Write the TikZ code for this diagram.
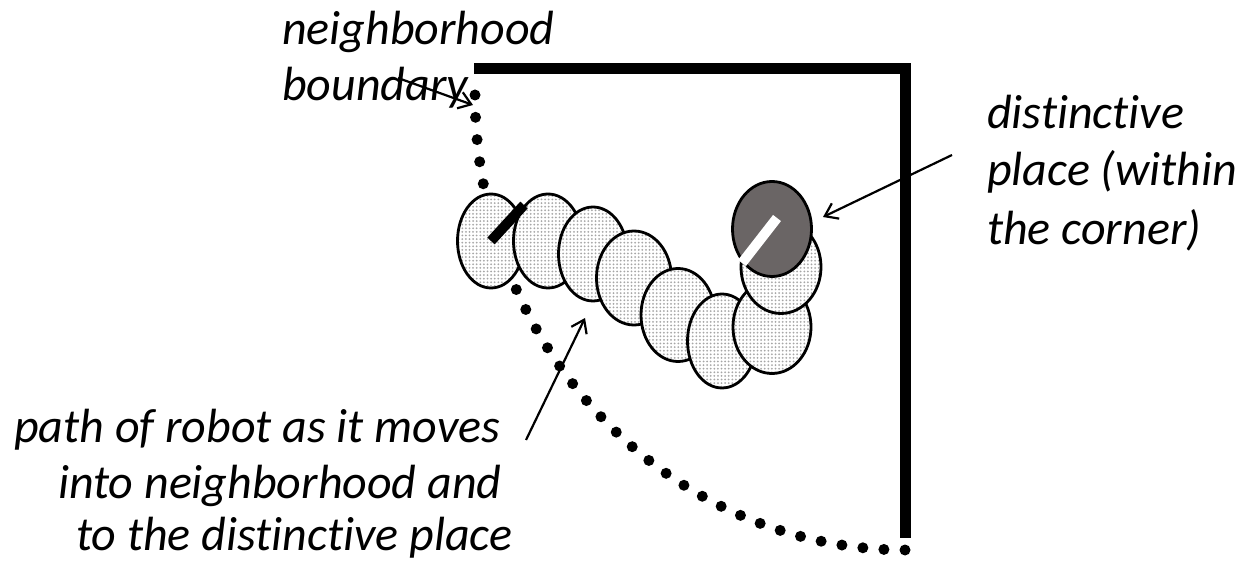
\documentclass[tikz,border=0pt]{standalone}
\usepackage{fontspec}
\setmainfont{Carlito}[Ligatures=NoCommon]
\usetikzlibrary{arrows.meta,patterns,shapes.geometric}
\pgfdeclarepatternformonly{robotdots}{\pgfqpoint{-0.5pt}{-0.5pt}}{\pgfqpoint{3.5pt}{3.5pt}}{\pgfqpoint{3.6pt}{3.6pt}}{\pgfpathcircle{\pgfqpoint{1.5pt}{1.5pt}}{1pt}\pgfusepath{fill}}
\definecolor{darkbot}{RGB}{106,101,101}
\begin{document}
\begin{tikzpicture}[x=1pt,y=-1pt,
  robot/.style={ellipse, draw, line width=2.8pt, inner sep=0pt, preaction={fill=white}, pattern=robotdots, pattern color=gray!70},
  darkrobot/.style={ellipse, draw, line width=2.8pt, inner sep=0pt, fill=darkbot},
  lbl/.style={font=\fontsize{48}{56}\selectfont\itshape, inner sep=0pt, anchor=base west},
  wall/.style={line width=10.6pt, line join=miter},
  ptr/.style={line width=2.2pt, -{Straight Barb[length=12pt,width=17pt]}},
  bar/.style={line width=10pt}]
\useasboundingbox (0,0) rectangle (1240,561);
% neighborhood boundary (dotted arc)
\foreach \i in {0,...,32} {
  \fill ({905+430*cos(180-\i*90/32)},{95+455*sin(180-\i*90/32)}) circle (5.5pt);
}
% walls
\draw[wall] (474,68.5) -- (905.5,68.5) -- (905.5,538);
% robot path
\node[robot, minimum width=67pt, minimum height=94pt] (r1) at (491,241) {};
\node[robot, minimum width=69pt, minimum height=94pt] (r2) at (548,241) {};
\node[robot, minimum width=69pt, minimum height=94pt] (r3) at (593,254) {};
\node[robot, minimum width=75pt, minimum height=94pt] (r4) at (634,278) {};
\node[robot, minimum width=74pt, minimum height=93pt] (r5) at (678,315) {};
\node[robot, minimum width=69pt, minimum height=94pt] (r6) at (722,341) {};
\node[robot, minimum width=78pt, minimum height=93pt] (r7) at (772,327) {};
\node[robot, minimum width=80pt, minimum height=93pt] (r8) at (781,267) {};
\coordinate (h1) at (524,205);
\draw[bar] (r1.center) -- (h1);
\node[darkrobot, minimum width=79pt, minimum height=95pt] (rd) at (772,229) {};
\coordinate (hd1) at (777,218);
\coordinate (hd2) at (742,263);
\draw[bar, white] (hd1) -- (hd2);
% labels
\node[lbl] (nb1) at (282,45) {neighborhood};
\node[lbl] (nb2) at (282,101) {boundary};
\node[lbl] (dp1) at (987,129) {distinctive};
\node[lbl] (dp2) at (987,186) {place (within};
\node[lbl] (dp3) at (987,245) {the corner)};
\node[lbl] (pr1) at (14,442) {path of robot as it moves};
\node[lbl] (pr2) at (58,498) {into neighborhood and};
\node[lbl] (pr3) at (76,550) {to the distinctive place};
% pointers
\coordinate (a1s) at (398,78);
\coordinate (a1e) at (473,105);
\coordinate (a2s) at (952,155);
\coordinate (a2e) at (823,217);
\coordinate (a3s) at (526,440);
\coordinate (a3e) at (585,318);
\draw[ptr] (a1s) -- (a1e);
\draw[ptr] (a2s) -- (a2e);
\draw[ptr] (a3s) -- (a3e);
\end{tikzpicture}
\end{document}
